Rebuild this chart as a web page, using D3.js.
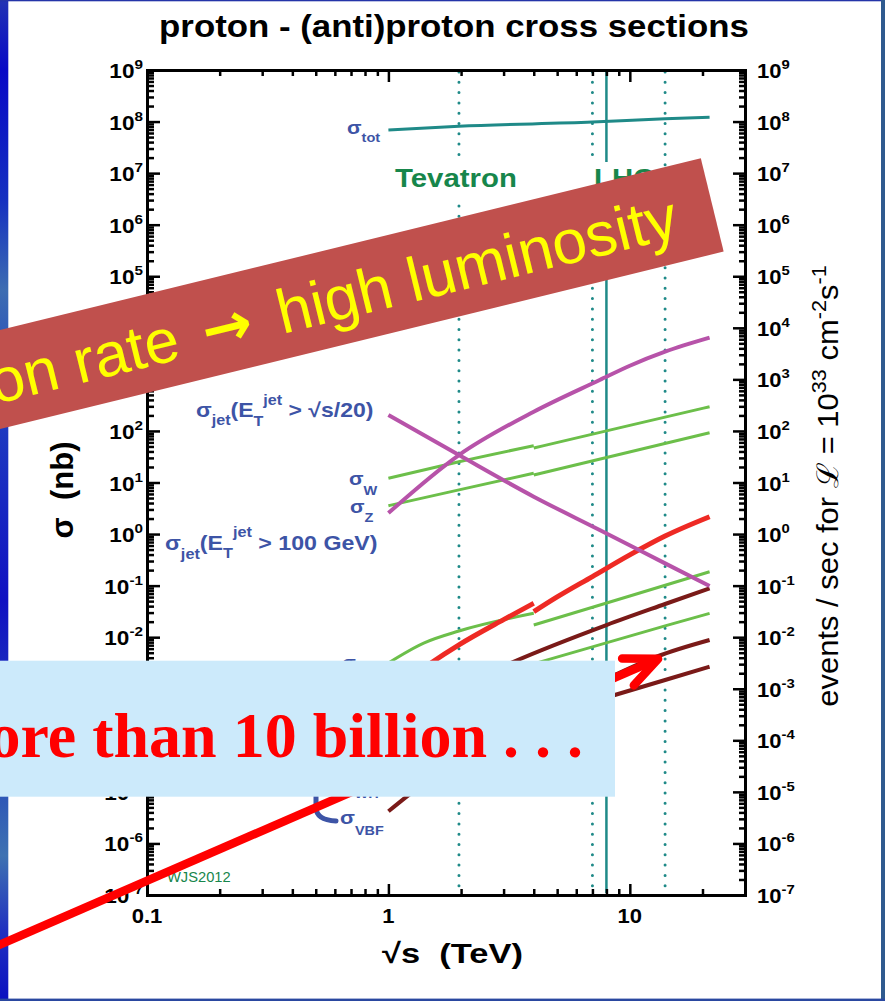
<!DOCTYPE html>
<html>
<head>
<meta charset="utf-8">
<script src="https://cdn.jsdelivr.net/npm/d3@7/dist/d3.min.js"></script>
<style>
html,body{margin:0;padding:0;background:#ffffff;}
svg{display:block;}
</style>
</head>
<body>
<svg id="chart" width="885" height="1001"></svg>
<script>
// ---------------- data ----------------
const xMajorTicks = [0.1, 1, 10];
const xMinorTicks = [0.2,0.3,0.4,0.5,0.6,0.7,0.8,0.9,2,3,4,5,6,7,8,9,20];
const xTickLabels = ["0.1", "1", "10"];
const yExponents = [9,8,7,6,5,4,3,2,1,0,-1,-2,-3,-4,-5,-6,-7];
const colliderEnergies = [1.96, 7, 8, 14];
const colliderSolid = [false, false, true, false];
const colliderNames = ["Tevatron", "LHC"];

// cross sections in nb vs sqrt(s) in TeV
const sigmaTot      = [[1,6.85e7],[1.96,8.1e7],[7,9.8e7],[14,1.13e8],[21.4,1.21e8]];
const sigmaJet100   = [[1,2.56],[1.96,34.1],[4,236],[7.5,973],[10,1840],[14,3440],[21.4,6430]];
const sigmaJetS20   = [[1,204],[1.96,34.1],[4,5.31],[7.5,1.2],[14,0.27],[21.4,0.098]];
const sigmaW_ppbar  = [[1,12.1],[1.96,25.3],[4,51.8]];
const sigmaW_pp     = [[4,46.7],[10,128],[21.4,295]];
const sigmaZ_ppbar  = [[1,3.55],[1.96,7.2],[4,15.1]];
const sigmaZ_pp     = [[4,14.0],[21.4,92.5]];
const sigmaTop_ppbar= [[1.35,2.25e-3],[1.5,3.16e-3],[1.96,7.1e-3],[3,0.0219],[4,0.0454]];
const sigmaTop_pp   = [[4,0.0312],[5,0.0603],[7,0.150],[10,0.395],[14,0.916],[21.4,2.17]];
const sigmaWW_ppbar = [[1,3.17e-3],[1.4,7.7e-3],[1.96,0.0132],[4,0.029]];
const sigmaWW_pp    = [[4,0.0172],[10,0.063],[21.4,0.186]];
const sigmaZZ_pp    = [[3.8,2.84e-3],[14,0.0166],[21.4,0.029]];
const sigmaggH      = [[3,2.75e-3],[3.3,3.34e-3],[8,0.0172],[14,0.044],[21.4,0.0887]];
const sigmaVBF      = [[1,4.2e-6],[1.19,8.1e-6],[8.67,1.85e-3],[12.9,4.19e-3],[21.4,8.83e-3]];
const sigmaWH       = [[8,6.76e-4],[14,1.48e-3],[21.4,2.67e-3]];

// overlay annotation (arrow from far below-left up to the VBF curve at LHC)
const arrowTail = [0.0224, 9e-9];
const arrowTip  = [13.1, 3.8e-3];

// ---------------- setup ----------------
const FONT = "'Liberation Sans', Arial, Helvetica, sans-serif";
const SERIF = "'Liberation Serif', 'Times New Roman', serif";
const svg = d3.select("#chart");
const x = d3.scaleLog().domain([0.1, 30]).range([147, 745]);
const y = d3.scaleLog().domain([1e-7, 1e9]).range([895, 70]);
const TEAL = "#1f8a88", BLUE = "#3d54a6", GREEN_TXT = "#17864b";
const NB = "\u00a0";

svg.append("rect").attr("width", 885).attr("height", 1001).attr("fill", "#ffffff");

// rich text helper: segments with baseline offsets
function rich(parent, px, py, segs, o) {
  const g = parent.append("g").attr("transform", `translate(${px},${py}) scale(${o.k || 1},1)`);
  const t = g.append("text")
    .attr("fill", o.fill || "#000")
    .attr("font-family", o.family || FONT)
    .attr("font-weight", o.weight || "bold")
    .attr("text-anchor", o.anchor || "start");
  let prev = 0;
  segs.forEach(s => {
    const b = s.b || 0;
    const ts = t.append("tspan").attr("font-size", s.size).attr("dy", b - prev).text(s.t);
    if (s.family) ts.attr("font-family", s.family);
    prev = b;
  });
  return t;
}

// ---------------- collider lines ----------------
const gCol = svg.append("g");
colliderEnergies.forEach((s, i) => {
  gCol.append("line")
    .attr("x1", x(s)).attr("x2", x(s)).attr("y1", y(1e9) + 2).attr("y2", y(1e-7) - 2)
    .attr("stroke", TEAL)
    .attr("stroke-width", colliderSolid[i] ? 2.5 : 3)
    .attr("stroke-linecap", colliderSolid[i] ? "butt" : "round")
    .attr("stroke-dasharray", colliderSolid[i] ? null : "0,10.3");
});
gCol.append("rect").attr("x", 390).attr("y", 156).attr("width", 133).attr("height", 41).attr("fill", "#fff");
gCol.append("rect").attr("x", 588).attr("y", 162).attr("width", 72).attr("height", 40).attr("fill", "#fff");
rich(gCol, 395, 187, [{t: colliderNames[0], size: 26}], {fill: GREEN_TXT, k: 1.13});
rich(gCol, 594, 187, [{t: colliderNames[1], size: 26}], {fill: GREEN_TXT, k: 1.13});

// ---------------- curves ----------------
const line = d3.line().x(d => x(d[0])).y(d => y(d[1])).curve(d3.curveMonotoneX);
const series = [
  {d: sigmaTot, c: TEAL, w: 3},
  {d: sigmaW_ppbar, c: "#6cbf4a", w: 3},
  {d: sigmaW_pp, c: "#6cbf4a", w: 3},
  {d: sigmaZ_ppbar, c: "#6cbf4a", w: 3},
  {d: sigmaZ_pp, c: "#6cbf4a", w: 3},
  {d: sigmaWW_ppbar, c: "#6cbf4a", w: 3},
  {d: sigmaWW_pp, c: "#6cbf4a", w: 3},
  {d: sigmaZZ_pp, c: "#6cbf4a", w: 3},
  {d: sigmaggH, c: "#7a1a18", w: 4},
  {d: sigmaVBF, c: "#7a1a18", w: 4},
  {d: sigmaWH, c: "#7a1a18", w: 4},
  {d: sigmaTop_ppbar, c: "#ee2a24", w: 5},
  {d: sigmaTop_pp, c: "#ee2a24", w: 5},
  {d: sigmaJetS20, c: "#b753a9", w: 4},
  {d: sigmaJet100, c: "#b753a9", w: 4}
];
const gCurves = svg.append("g");
series.forEach(s => {
  gCurves.append("path").attr("d", line(s.d)).attr("fill", "none")
    .attr("stroke", s.c).attr("stroke-width", s.w).attr("stroke-linecap", "butt");
});

// ---------------- curve labels ----------------
const gLab = svg.append("g");
const LK = 1.12;
rich(gLab, 347, 134, [{t:"σ",size:19},{t:"tot",size:13,b:8}], {fill: BLUE, k: LK});
rich(gLab, 196, 417, [{t:"σ",size:20},{t:"jet",size:14,b:8},{t:"(E",size:20,b:0},{t:"T",size:14,b:9},{t:"jet",size:14,b:-12},{t:" > √s/20)",size:20,b:0}], {fill: BLUE, k: 1.15});
rich(gLab, 349, 485, [{t:"σ",size:19},{t:"W",size:13,b:10}], {fill: BLUE, k: LK});
rich(gLab, 350, 513, [{t:"σ",size:19},{t:"Z",size:13,b:9}], {fill: BLUE, k: LK});
rich(gLab, 165, 550, [{t:"σ",size:20},{t:"jet",size:14,b:9},{t:"(E",size:20,b:0},{t:"T",size:14,b:8},{t:"jet",size:14,b:-13},{t:" > 100 GeV)",size:20,b:0}], {fill: BLUE, k: 1.16});
rich(gLab, 342, 669, [{t:"σ",size:18},{t:"WW",size:13,b:9}], {fill: BLUE, k: LK});
rich(gLab, 340, 788, [{t:"σ",size:19},{t:"WH",size:13,b:10}], {fill: BLUE, k: LK});
rich(gLab, 340, 824, [{t:"σ",size:19},{t:"VBF",size:12.5,b:11}], {fill: BLUE, k: 1.15});
rich(gLab, 167, 882, [{t:"WJS2012",size:14}], {fill: GREEN_TXT, weight: "normal", k: 1.05});
// brace grouping the Higgs production labels (bottom end visible)
gLab.append("path").attr("d", "M316,770 L316,808 Q316.5,820 336,821")
  .attr("fill", "none").attr("stroke", BLUE).attr("stroke-width", 5).attr("stroke-linecap", "round");

// ---------------- axes ----------------
function axisPair(axisFn, scale, major, minor, majLen, minLen, tr) {
  const gM = svg.append("g").attr("transform", tr)
    .call(axisFn(scale).tickValues(major).tickFormat("").tickSizeInner(-majLen).tickSizeOuter(0));
  const gm = svg.append("g").attr("transform", tr)
    .call(axisFn(scale).tickValues(minor).tickFormat("").tickSizeInner(-minLen).tickSizeOuter(0));
  gm.select(".domain").remove();
  [gM, gm].forEach(g => {
    g.selectAll(".tick line").attr("stroke", "#000").attr("stroke-width", 2.5);
    g.select(".domain").attr("stroke", "#000").attr("stroke-width", 3).attr("stroke-linecap", "square");
  });
}
const yMajor = yExponents.map(e => Math.pow(10, e));
const yMinor = [];
yExponents.slice(1).forEach(e => { for (let m = 2; m <= 9; m++) yMinor.push(m * Math.pow(10, e)); });
axisPair(d3.axisBottom, x, xMajorTicks, xMinorTicks, 11, 6, "translate(0,895)");
axisPair(d3.axisTop, x, xMajorTicks, xMinorTicks, 12, 6, "translate(0,70)");
axisPair(d3.axisLeft, y, yMajor, yMinor, 13, 7, "translate(147,0)");
axisPair(d3.axisRight, y, yMajor, yMinor, 12, 6, "translate(745,0)");

// tick labels
const gT = svg.append("g");
yExponents.forEach(e => {
  const yy = y(Math.pow(10, e)) + 8;
  rich(gT, 143, yy, [{t:"10",size:20},{t:String(e),size:13.5,b:-9}], {anchor: "end", k: 1.13});
  rich(gT, 757, yy, [{t:"10",size:20},{t:String(e),size:13.5,b:-9}], {anchor: "start", k: 1.1});
});
xMajorTicks.forEach((v, i) => {
  rich(gT, x(v), 923, [{t: xTickLabels[i], size: 20}], {anchor: "middle", k: 1.1});
});

// titles
function fitX(t, target) {
  const w = t.node().getComputedTextLength();
  return target / w;
}
const title = svg.append("text").attr("font-family", FONT).attr("font-weight", "bold")
  .attr("font-size", 31).attr("text-anchor", "middle").text("proton - (anti)proton cross sections");
title.attr("transform", `translate(454,37) scale(${fitX(title, 590)},1)`);

const xTitle = svg.append("text").attr("font-family", FONT).attr("font-weight", "bold")
  .attr("font-size", 28).attr("text-anchor", "middle").text("√s" + NB + NB + "(TeV)");
xTitle.attr("transform", `translate(452.5,963) scale(${fitX(xTitle, 141)},1)`);

svg.append("text").attr("font-family", FONT).attr("font-weight", "bold")
  .attr("font-size", 31).attr("text-anchor", "middle")
  .attr("transform", "translate(73,490) rotate(-90)").text("σ" + NB + NB + "(nb)");

const rt = svg.append("text").attr("font-family", FONT).attr("font-size", 30)
  .attr("text-anchor", "middle");
[["events / sec for ℒ = 10",0],["33",-12],[NB + "cm",0],["-2",-12],["s",0],["-1",-12]].forEach((s,i,arr) => {
  const prev = i ? arr[i-1][1] : 0;
  rt.append("tspan").attr("dy", s[1] - prev).attr("font-size", s[1] ? 21 : 30).text(s[0]);
});
rt.attr("transform", `translate(838,486) rotate(-90) scale(${fitX(rt, 442)},1)`);

// ---------------- slide frame ----------------
const grad = svg.append("defs").append("linearGradient").attr("id", "strip")
  .attr("x1", 0).attr("y1", 0).attr("x2", 0).attr("y2", 1);
[[0,"#2233b4"],[0.07,"#0808c6"],[0.2,"#1530c0"],[0.29,"#3d6db2"],[0.4,"#2040c0"],
 [0.6,"#1010c2"],[0.78,"#2a50b8"],[0.855,"#3e72b2"],[0.93,"#2030c0"],[1,"#0a10c0"]]
 .forEach(s => grad.append("stop").attr("offset", s[0]).attr("stop-color", s[1]));
svg.append("rect").attr("x", 0).attr("y", 0).attr("width", 8.3).attr("height", 1001).attr("fill", "url(#strip)");
svg.append("rect").attr("x", 0).attr("y", 0).attr("width", 885).attr("height", 1.3).attr("fill", "#2434a8");
svg.append("rect").attr("x", 881).attr("y", 0).attr("width", 4).attr("height", 1001).attr("fill", "#2f5a8f");
svg.append("rect").attr("x", 0).attr("y", 998.6).attr("width", 885).attr("height", 2.4).attr("fill", "#2a48a0");

// ---------------- overlay: red arrow ----------------
const tail = [x(arrowTail[0]), y(arrowTail[1])];
const tip = [x(arrowTip[0]), y(arrowTip[1])];
const back = Math.atan2(tail[1] - tip[1], tail[0] - tip[0]);
const armLen = 36, armAng = 24 * Math.PI / 180;
const armA = [tip[0] + armLen * Math.cos(back + armAng), tip[1] + armLen * Math.sin(back + armAng)];
const armB = [tip[0] + armLen * Math.cos(back - armAng), tip[1] + armLen * Math.sin(back - armAng)];
svg.append("path").attr("d", d3.line()([tail, tip]))
  .attr("stroke", "#ff0000").attr("stroke-width", 8.5).attr("fill", "none");
svg.append("path").attr("d", d3.line()([armA, tip, armB]))
  .attr("stroke", "#ff0000").attr("stroke-width", 8.5).attr("fill", "none")
  .attr("stroke-linejoin", "round").attr("stroke-linecap", "round");

// ---------------- overlay: light blue box ----------------
svg.append("rect").attr("x", 0).attr("y", 660.7).attr("width", 615).attr("height", 136).attr("fill", "#cceafb");
svg.append("text").attr("x", 583).attr("y", 757).attr("text-anchor", "end")
  .attr("font-family", SERIF).attr("font-weight", "bold").attr("font-size", 64)
  .attr("fill", "#ff0000").text("More than 10 billion . . .");

// ---------------- overlay: banner ----------------
const ban = svg.append("g").attr("transform", "translate(700.8,158.3) rotate(-13.77)");
ban.append("rect").attr("x", -1000).attr("y", 0).attr("width", 1000).attr("height", 96).attr("fill", "#c0504d");
const bt = ban.append("text").attr("x", -38).attr("y", 71).attr("text-anchor", "end")
  .attr("font-family", FONT).attr("font-size", 62).attr("fill", "#ffff00");
bt.append("tspan").text("interaction rate ");
bt.append("tspan").attr("dx", 8).attr("font-family", "'DejaVu Sans', sans-serif").attr("font-weight", "bold").attr("font-size", 60).text("→");
bt.append("tspan").attr("dx", 10).text(" high luminosity");
</script>
</body>
</html>
